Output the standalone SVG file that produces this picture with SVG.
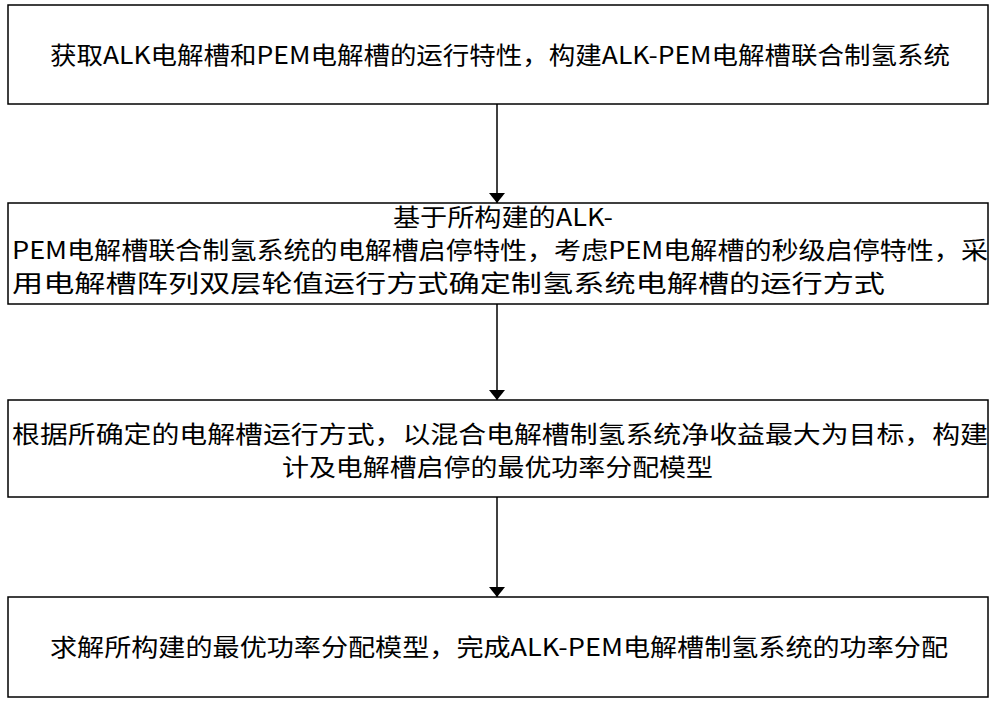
<svg xmlns="http://www.w3.org/2000/svg" width="1000" height="703" viewBox="0 0 1000 703">
<style>
.b{fill:#fff;stroke:#000;stroke-width:1.5}
.t{font-family:"Noto Sans CJK SC","Liberation Sans",sans-serif;font-size:24px;fill:#000}
.c{stroke:#000;stroke-width:1.5;fill:none}
</style>
<defs>
<marker id="h" viewBox="0 0 10 16" markerWidth="10" markerHeight="16" refX="10" refY="8" orient="auto" markerUnits="userSpaceOnUse"><path d="M0,0 L10,8 L0,16 Z" fill="#000"/></marker></defs>
<rect width="1000" height="703" fill="#fff"/>
<g id="n1"><rect class="b" x="8" y="5" width="980" height="99"/><text class="t" x="50" y="64" textLength="900" lengthAdjust="spacingAndGlyphs">获取ALK电解槽和PEM电解槽的运行特性，构建ALK-PEM电解槽联合制氢系统</text></g>
<g id="n2"><rect class="b" x="8" y="203" width="980" height="101"/><text class="t" x="393" y="226" textLength="220" lengthAdjust="spacingAndGlyphs">基于所构建的ALK-</text><text class="t" x="12" y="259" textLength="976" lengthAdjust="spacingAndGlyphs">PEM电解槽联合制氢系统的电解槽启停特性，考虑PEM电解槽的秒级启停特性，采</text><text class="t" x="12" y="292" textLength="873" lengthAdjust="spacingAndGlyphs">用电解槽阵列双层轮值运行方式确定制氢系统电解槽的运行方式</text></g>
<g id="n3"><rect class="b" x="8" y="400" width="980" height="97"/><text class="t" x="12" y="443" textLength="976" lengthAdjust="spacingAndGlyphs">根据所确定的电解槽运行方式，以混合电解槽制氢系统净收益最大为目标，构建</text><text class="t" x="282" y="476" textLength="431" lengthAdjust="spacingAndGlyphs">计及电解槽启停的最优功率分配模型</text></g>
<g id="n4"><rect class="b" x="8" y="597" width="980" height="100"/><text class="t" x="50" y="656" textLength="898" lengthAdjust="spacingAndGlyphs">求解所构建的最优功率分配模型，完成ALK-PEM电解槽制氢系统的功率分配</text></g>
<g id="edges">
<line class="c" x1="497" y1="104" x2="497" y2="203" marker-end="url(#h)"/>
<line class="c" x1="497" y1="304" x2="497" y2="400" marker-end="url(#h)"/>
<line class="c" x1="497" y1="497" x2="497" y2="597" marker-end="url(#h)"/>
</g>
</svg>
